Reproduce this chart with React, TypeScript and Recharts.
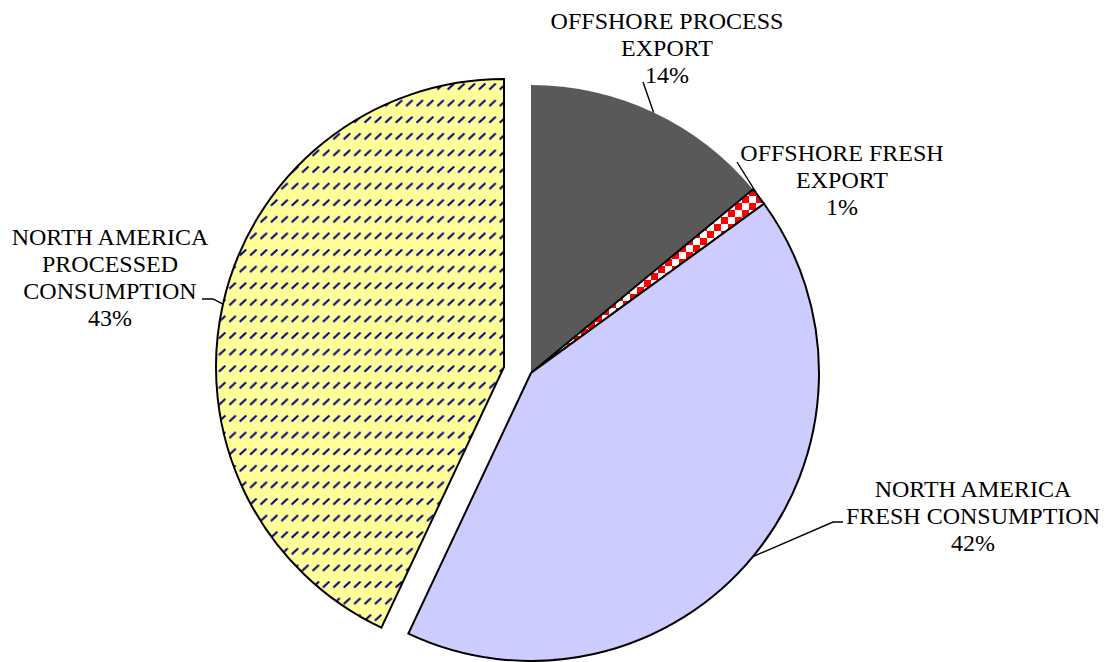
import React from 'react';
import { PieChart, Pie, Cell } from 'recharts';

// ---- data ----
const CATEGORIES = [
  'OFFSHORE PROCESS EXPORT',
  'OFFSHORE FRESH EXPORT',
  'NORTH AMERICA FRESH CONSUMPTION',
  'NORTH AMERICA PROCESSED CONSUMPTION',
];
const SHARES = [14, 1, 42, 43];
const LABEL_LINES = [
  ['OFFSHORE PROCESS', 'EXPORT'],
  ['OFFSHORE FRESH', 'EXPORT'],
  ['NORTH AMERICA', 'FRESH CONSUMPTION'],
  ['NORTH AMERICA', 'PROCESSED', 'CONSUMPTION'],
];

const data = CATEGORIES.map((name, i) => ({ name, value: SHARES[i] }));

// ---- layout / style ----
const W = 1108;
const H = 662;
const CX = 531;
const CY = 373;
const R = 288;
const EXPLODE_DX = -27;
const EXPLODE_DY = -6;
const FONT = '"Liberation Serif", "Times New Roman", serif';
const FONT_SIZE = 24;
const LINE_H = 27;

// label text anchor (center x, first baseline y) and leader-line start points
const LABEL_LAYOUT = [
  { x: 667, y: 29, pts: [[643, 82]] },
  { x: 842, y: 161, pts: [[737, 162]] },
  { x: 973, y: 497, pts: [[843, 522], [833, 522]] },
  { x: 110, y: 245, pts: [[202, 299], [213, 299]] },
];

const FILLS = ['#595959', 'url(#checker)', '#CCCCFF', 'url(#dashDiag)'];
const STROKES = ['none', '#000', '#000', '#000'];

const RADIAN = Math.PI / 180;

const makeLabel = (visible: number[]) => (props: any) => {
  const { cx, cy, midAngle, outerRadius, index, value } = props;
  if (!visible.includes(index)) return null;
  const ax = cx + outerRadius * Math.cos(-midAngle * RADIAN);
  const ay = cy + outerRadius * Math.sin(-midAngle * RADIAN);
  const lay = LABEL_LAYOUT[index];
  const pts = [...lay.pts, [ax, ay]].map((p) => p.join(',')).join(' ');
  const lines = [...LABEL_LINES[index], `${value}%`];
  return (
    <g key={`lbl-${index}`}>
      <polyline points={pts} fill="none" stroke="#000" strokeWidth={1.4} />
      {lines.map((t, k) => (
        <text
          key={k}
          x={lay.x}
          y={lay.y + k * LINE_H}
          textAnchor="middle"
          fontFamily={FONT}
          fontSize={FONT_SIZE}
          fill="#000"
        >
          {t}
        </text>
      ))}
    </g>
  );
};

export default function App() {
  return (
    <div style={{ position: 'absolute', left: 0, top: 0, width: W, height: H, background: '#fff' }}>
      <PieChart width={W} height={H} margin={{ top: 0, right: 0, bottom: 0, left: 0 }}>
        <defs>
          <pattern id="dashDiag" patternUnits="userSpaceOnUse" width={10.4} height={16.6}>
            <rect x={0} y={0} width={10.4} height={16.6} fill="#FFFF99" />
            <line x1={0.5} y1={6.5} x2={7} y2={0.5} stroke="#000080" strokeWidth={2} />
          </pattern>
          <pattern id="checker" patternUnits="userSpaceOnUse" width={14} height={14}>
            <rect x={0} y={0} width={14} height={14} fill="#fff" />
            <rect x={0} y={0} width={7} height={7} fill="#FF0000" />
            <rect x={7} y={7} width={7} height={7} fill="#FF0000" />
          </pattern>
        </defs>
        <Pie
          data={data}
          dataKey="value"
          nameKey="name"
          cx={CX}
          cy={CY}
          outerRadius={R}
          startAngle={90}
          endAngle={-270}
          isAnimationActive={false}
          labelLine={false}
          label={makeLabel([0, 1, 2])}
        >
          {data.map((d, i) => (
            <Cell
              key={i}
              fill={i === 3 ? 'none' : FILLS[i]}
              stroke={i === 3 ? 'none' : STROKES[i]}
              strokeWidth={2}
            />
          ))}
        </Pie>
        <Pie
          data={data}
          dataKey="value"
          nameKey="name"
          cx={CX + EXPLODE_DX}
          cy={CY + EXPLODE_DY}
          outerRadius={R}
          startAngle={90}
          endAngle={-270}
          isAnimationActive={false}
          labelLine={false}
          label={makeLabel([3])}
        >
          {data.map((d, i) => (
            <Cell
              key={i}
              fill={i === 3 ? FILLS[i] : 'none'}
              stroke={i === 3 ? STROKES[i] : 'none'}
              strokeWidth={2}
            />
          ))}
        </Pie>
      </PieChart>
    </div>
  );
}
